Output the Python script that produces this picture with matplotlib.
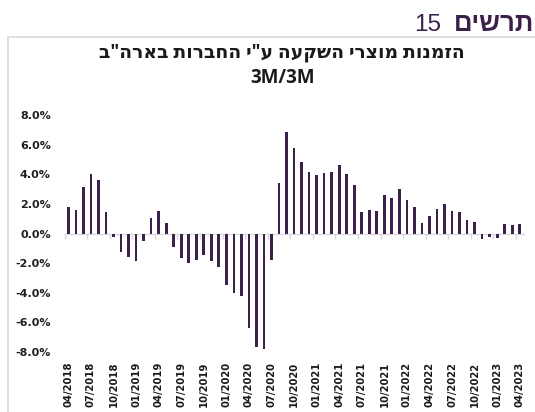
import numpy as np
import matplotlib
matplotlib.use('Agg')
from matplotlib import pyplot
from matplotlib.patches import Rectangle


### data: monthly orders 3M/3M change (%), 04/2018 .. 04/2023
months = ['%02d/%d' % (m, y) for y in range(2018, 2024) for m in range(1, 13)]
months = months[3:3 + 61]
values = [1.82, 1.60, 3.12, 4.00, 3.62, 1.46, -0.25, -1.24, -1.60, -1.84,
          -0.52, 1.06, 1.53, 0.74, -0.92, -1.64, -2.00, -1.78, -1.46, -1.84,
          -2.29, -3.50, -4.04, -4.22, -6.40, -7.64, -7.78, -1.78, 3.39, 6.83,
          5.80, 4.83, 4.18, 3.93, 4.07, 4.18, 4.61, 4.00, 3.28, 1.42,
          1.60, 1.53, 2.61, 2.38, 2.99, 2.27, 1.78, 0.70, 1.19, 1.66,
          1.98, 1.53, 1.42, 0.92, 0.76, -0.38, -0.25, -0.31, 0.63, 0.58,
          0.65]
yticks = [-8, -6, -4, -2, 0, 2, 4, 6, 8]

title_he = 'הזמנות מוצרי השקעה ע"י החברות בארה"ב'
header_he = 'תרשים'
header_num = '15'

purple = '#3c1f4b'


def vis(s):
	# matplotlib has no bidi: hebrew goes in visual order
	return s[::-1]


pyplot.rcParams['font.family'] = ['DejaVu Sans']
fig = pyplot.figure(figsize=(5.35, 4.12), dpi=100)

# frame round the chart
fig.patches.append(Rectangle((8/535, -0.1), 1.0, (412-37.5)/412 + 0.1,
                             transform=fig.transFigure, fill=False,
                             edgecolor='#d9d9d9', lw=1.2))

# header
fig.text(441/535, 1 - 31/412, header_num, ha='right', va='baseline',
         fontsize=17.5, color=purple, family=['Liberation Sans', 'DejaVu Sans'])
fig.text(454/535, 1 - 31/412, vis(header_he), ha='left', va='baseline',
         fontsize=18.5, color=purple, fontweight='bold',
         family=['Liberation Sans', 'DejaVu Sans'])

# chart title
fig.text(282/535, 1 - 57/412, vis(title_he), ha='center', va='baseline',
         fontsize=13.5, fontweight='bold', color='#1a1a1a',
         family=['Open Sans', 'DejaVu Sans'])
fig.text(283/535, 1 - 83/412, '3M/3M', ha='center', va='baseline',
         fontsize=13.5, fontweight='bold', color='#1a1a1a',
         family=['Open Sans', 'DejaVu Sans'])

ax = fig.add_axes([64.6/535, 60/412, (523.5-64.6)/535, 237/412])
x = np.arange(len(values))
ax.bar(x, values, width=0.36, color=purple, zorder=3)
ax.set_xlim(-0.5, len(values) - 0.5)
ax.set_ylim(-8, 8)

for s in ['top', 'right', 'left']:
	ax.spines[s].set_visible(False)
ax.spines['bottom'].set_position(('data', 0))
ax.spines['bottom'].set_color('#d9d9d9')
ax.spines['bottom'].set_linewidth(1.0)
ax.set_xticks(np.arange(-0.5, len(values), 3))
ax.tick_params(axis='x', length=3.5, width=1.0, color='#d9d9d9', labelbottom=False)

ax.set_yticks(yticks)
ax.set_yticklabels(['%.1f%%' % v for v in yticks])
ax.tick_params(axis='y', length=0, pad=10, labelsize=8, labelcolor='#1f1f1f')
for t in ax.get_yticklabels():
	t.set_fontweight('bold')

# date labels at the bottom of the plot
sec = ax.secondary_xaxis(0.0)
sec.set_xticks(x[::3])
sec.set_xticklabels(months[::3], rotation=90, fontsize=7.2, fontweight='bold',
                    color='#1a1a1a')
sec.tick_params(length=0, pad=7)
sec.spines['bottom'].set_visible(False)

pyplot.savefig('out.png', dpi=100)
